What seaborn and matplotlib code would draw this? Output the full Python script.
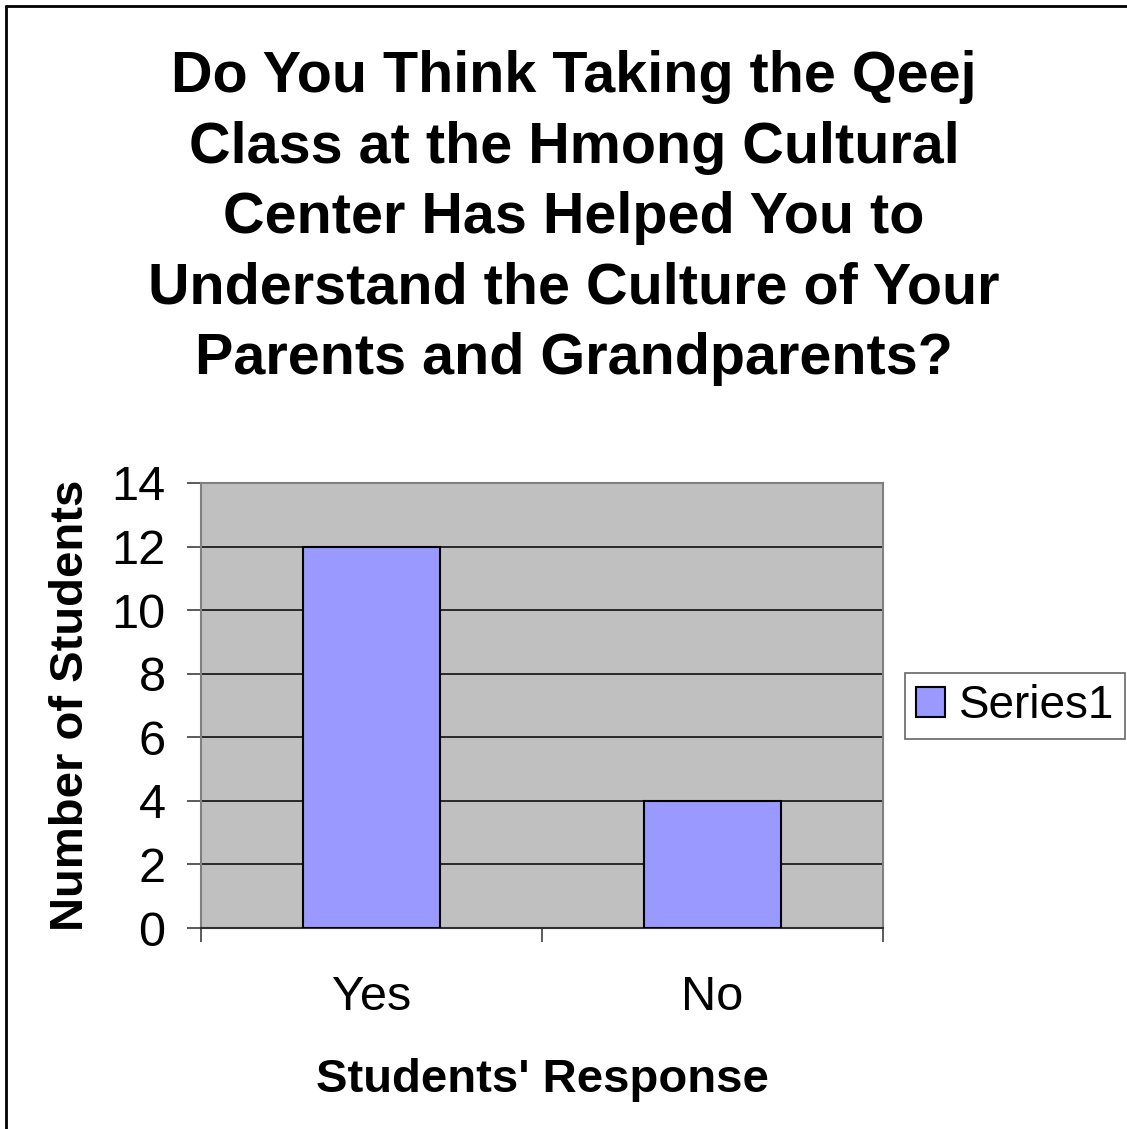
import matplotlib
matplotlib.use('Agg')
import matplotlib.pyplot as plt
import seaborn as sns
from matplotlib.lines import Line2D
from matplotlib.patches import Patch

# chart data
responses = ['Yes', 'No']
num_students = [12, 4]
series_name = 'Series1'
title_text = ('Do You Think Taking the Qeej\nClass at the Hmong Cultural\n'
              'Center Has Helped You to\nUnderstand the Culture of Your\n'
              'Parents and Grandparents?')
y_ticks = [0, 2, 4, 6, 8, 10, 12, 14]

sns.set_style('white')
plt.rcParams['font.family'] = ['Liberation Sans', 'DejaVu Sans']
plt.rcParams['text.color'] = 'black'
plt.rcParams['xtick.color'] = 'black'
plt.rcParams['ytick.color'] = 'black'

W, H = 1127, 1129
fig = plt.figure(figsize=(W / 100, H / 100), dpi=100)
ax = fig.add_axes([201 / W, 1 - 928 / H, (883 - 201) / W, (928 - 483) / H])

sns.barplot(x=responses, y=num_students, color='#9999FF', edgecolor='black',
            linewidth=1.5, width=0.4, saturation=1, ax=ax, zorder=3)

ax.set_facecolor('#C0C0C0')
ax.set_xlim(-0.5, 1.5)
ax.set_ylim(0, 14)
ax.set_yticks(y_ticks)
ax.set_yticklabels([str(t) for t in y_ticks], fontsize=35)
for t in y_ticks[1:-1]:
    ax.axhline(t, color='black', lw=1.1, zorder=1)

# category labels without ticks, boundary ticks at category edges
ax.set_xticks([0, 1])
ax.set_xticklabels(responses, fontsize=35)
ax.tick_params(axis='x', which='major', bottom=True, length=0, pad=34)
ax.set_xticks([-0.5, 0.5, 1.5], minor=True)
ax.tick_params(axis='x', which='minor', bottom=True, direction='out', length=10,
               width=1.2, color='#404040')
ax.tick_params(axis='y', left=True, direction='out', length=10, width=1.2,
               color='#404040', pad=15.5)
ax.set_xlabel('')
ax.set_ylabel('')

for side in ['top', 'right', 'left']:
    ax.spines[side].set_color('#808080')
    ax.spines[side].set_linewidth(1.5)
ax.spines['bottom'].set_color('#303030')
ax.spines['bottom'].set_linewidth(1.5)

fig.text(574 / W, 1 - 218 / H, title_text, ha='center', va='center',
         fontsize=41.4, fontweight='bold', linespacing=1.39, multialignment='center')
fig.text(542 / W, 1 - 1092 / H, "Students' Response", ha='center', va='baseline',
         fontsize=34, fontweight='bold')
fig.text(71 / W, 1 - 705 / H, 'Number of Students', ha='center', va='center',
         rotation=90, fontsize=34, fontweight='bold')

handle = Patch(facecolor='#9999FF', edgecolor='black', linewidth=1.5)
leg = fig.legend([handle], [series_name], loc='center left',
                 bbox_to_anchor=(905 / W, 1 - 706 / H), fontsize=33, frameon=True,
                 fancybox=False, handlelength=0.62, handleheight=0.62,
                 handletextpad=0.3, borderpad=0.25, borderaxespad=0)
leg.get_frame().set_edgecolor('#404040')
leg.get_frame().set_linewidth(1.2)

# outer chart border (right and bottom fall outside the image)
fig.add_artist(Line2D([6 / W, 6 / W], [0, 1 - 6 / H], color='black', lw=2))
fig.add_artist(Line2D([6 / W, 1], [1 - 6 / H, 1 - 6 / H], color='black', lw=2))

fig.savefig('out.png', dpi=100)
